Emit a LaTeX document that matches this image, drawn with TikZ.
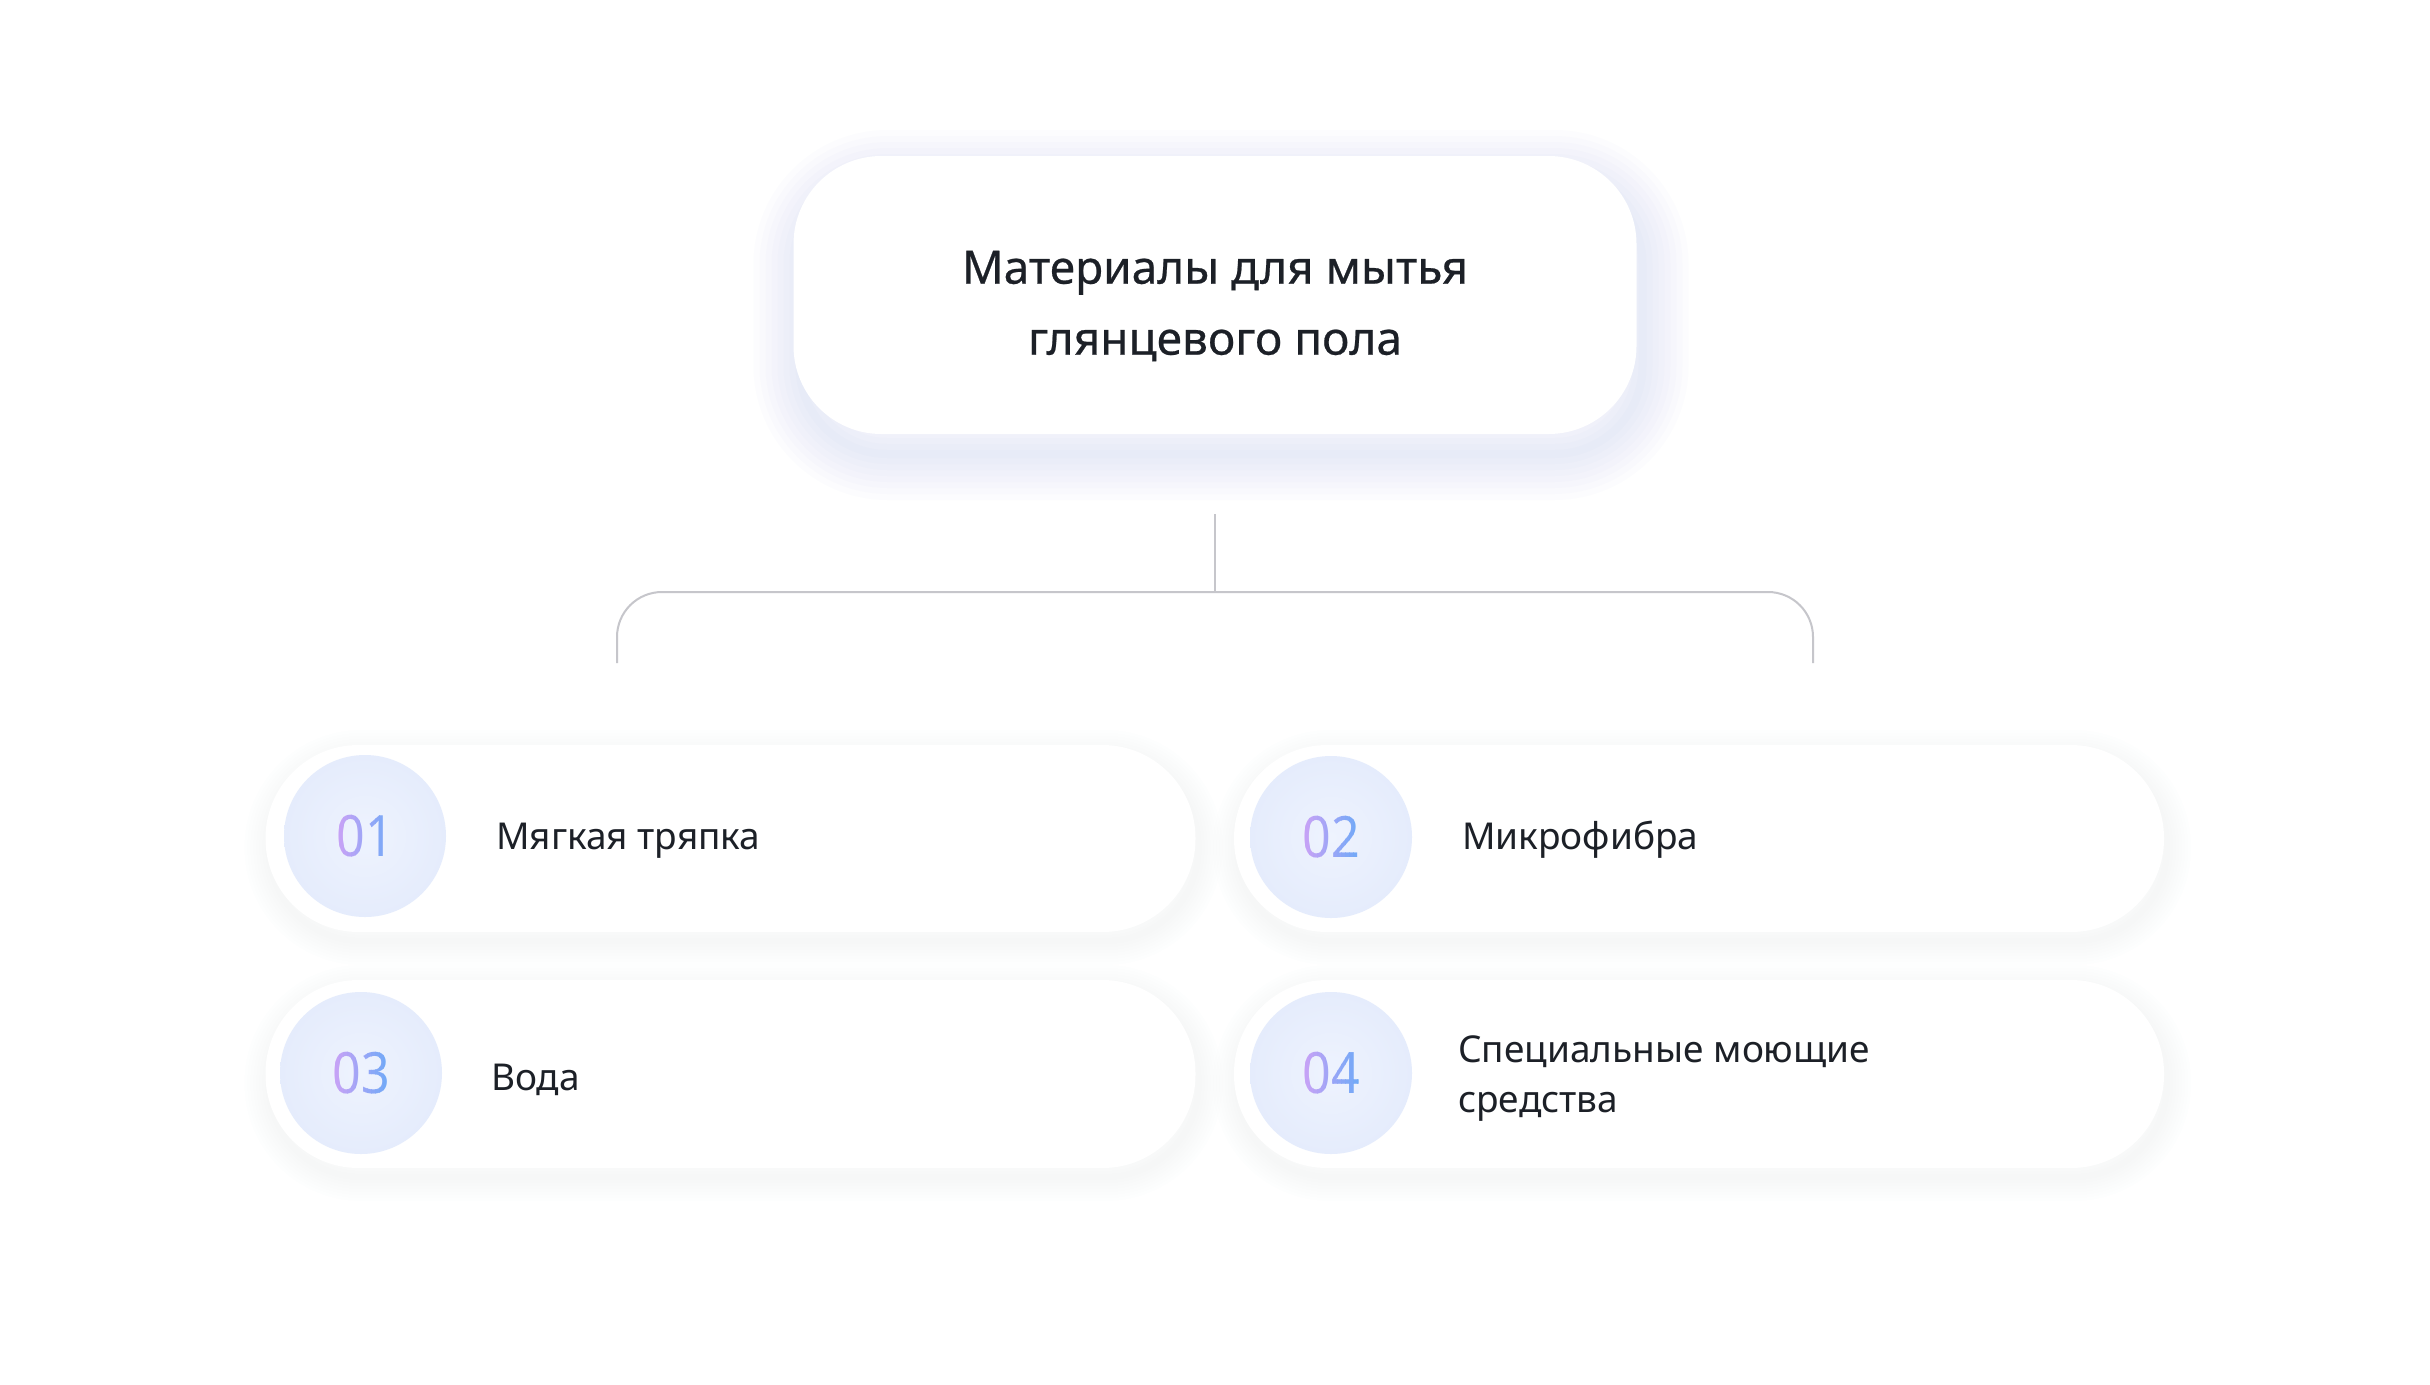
\documentclass[tikz,border=0pt]{standalone}
\usepackage{fontspec}
\setmainfont{Noto Sans}
\newfontfamily\titlefont{Noto Sans}[FakeBold=0.5]
\usetikzlibrary{shadows,calc}
\definecolor{ink}{HTML}{1C2027}
\definecolor{conn}{HTML}{C6C6CB}
\definecolor{circ}{HTML}{E5ECFC}
\definecolor{circin}{HTML}{EEF3FE}
\definecolor{numL}{HTML}{CBA2F6}
\definecolor{numR}{HTML}{68AAF7}
\definecolor{shc}{HTML}{7F8EF2}
\tikzset{
  sg/.style={general shadow={draw=shc, line width=#1, draw opacity=0.009, shadow yshift=-9pt, shadow xshift=3pt}},
  bg/.style={general shadow={draw=shc, line width=#1, draw opacity=0.019, shadow yshift=-20pt, shadow xshift=6pt}},
  softglow/.style={sg=48pt, sg=42pt, sg=36pt, sg=30pt, sg=24pt, sg=18pt, sg=12pt, sg=6pt},
  bigglow/.style={bg=92pt, bg=80pt, bg=68pt, bg=56pt, bg=44pt, bg=32pt, bg=20pt, bg=8pt},
  titlebox/.style={fill=white, rounded corners=88pt, minimum width=843pt, minimum height=278pt,
    inner sep=0pt, bigglow},
  titletext/.style={inner sep=0pt, align=center, text=ink, font=\titlefont\fontsize{46}{71}\selectfont},
  card/.style={fill=white, rounded corners=93pt, minimum width=930pt, minimum height=187pt,
    inner sep=0pt, softglow},
  numcirc/.style={circle, minimum size=162pt, inner sep=0pt, inner color=circin, outer color=circ},
  numtxt/.style={inner sep=0pt, font=\fontsize{57}{64}\selectfont},
  lbl/.style={inner sep=0pt, anchor=base west, text=ink, font=\fontsize{37}{50}\selectfont, align=left},
  conline/.style={draw=conn, line width=2pt},
}
% gradient-coloured number: #1 node name prefix, #2 circle node, #3 digits
\newcommand{\gradnum}[3]{%
  \foreach \i in {0,...,15}{%
    \pgfmathsetmacro{\pct}{100*\i/15}%
    \pgfmathsetmacro{\xa}{ifthenelse(\i==0,-60,-30+4*\i)}%
    \pgfmathsetmacro{\xb}{ifthenelse(\i==15,60,-30+4*\i+4.6)}%
    \begin{scope}
      \clip ($(#2)+(\xa,-45)$) rectangle ($(#2)+(\xb,45)$);
      \node[numtxt, text=numR!\pct!numL] (#1-\i) at (#2) {\scalebox{0.88}[1]{#3}};
    \end{scope}}}
\begin{document}
\begin{tikzpicture}[x=1pt, y=-1pt]
  \fill[white] (0,0) rectangle (2430,1384);
  \useasboundingbox (0,0) rectangle (2430,1384);

  % title
  \node[titlebox] (title) at (1215,295) {};
  \node[titletext] (ttext) at ([yshift=-11pt]title.center) {Материалы для мытья\\глянцевого пола};

  % connector
  \coordinate (ctop) at (1215,514);
  \coordinate (hbar) at (1215,592);
  \coordinate (cl) at (617,663);
  \coordinate (cr) at (1813,663);
  \draw[conline] (ctop) -- (hbar);
  \draw[conline, rounded corners=45pt] (cl) |- (hbar) -| (cr);

  % cards
  \node[card] (card1) at (730.5,838.5) {};
  \node[card] (card2) at (1699,838.5) {};
  \node[card, minimum height=188pt] (card3) at (730.5,1074) {};
  \node[card, minimum height=188pt] (card4) at (1699,1074) {};

  % number circles
  \node[numcirc] (c1) at (365,836) {};
  \node[numcirc] (c2) at (1331,837) {};
  \node[numcirc] (c3) at (361,1073) {};
  \node[numcirc] (c4) at (1331,1073) {};

  % gradient numbers
  \gradnum{n1}{c1}{01}
  \gradnum{n2}{c2}{02}
  \gradnum{n3}{c3}{03}
  \gradnum{n4}{c4}{04}

  % labels
  \node[lbl] (l1) at (496,849) {Мягкая тряпка};
  \node[lbl] (l2) at (1462,849) {Микрофибра};
  \node[lbl] (l3) at (491,1090) {Вода};
  \node[lbl] (l4) at (1458,1112) {Специальные моющие\\средства};
\end{tikzpicture}
\end{document}
